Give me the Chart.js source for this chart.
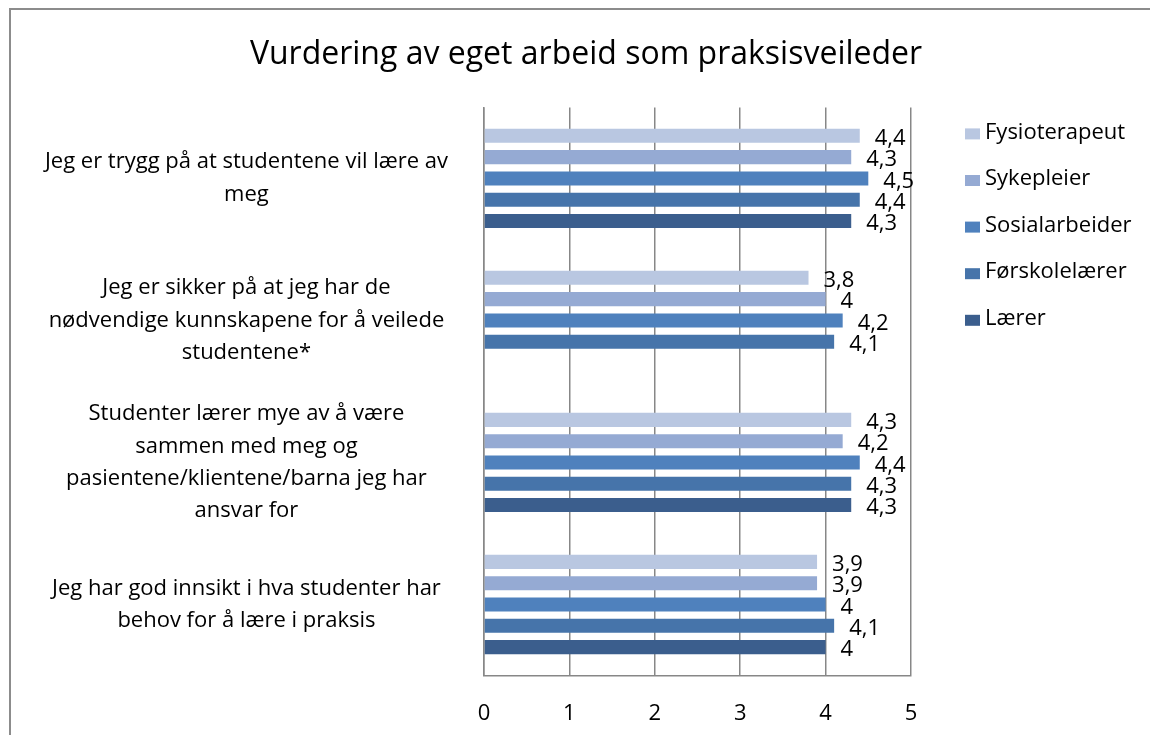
<!DOCTYPE html>
<html lang="no">
<head>
<meta charset="utf-8">
<title>Vurdering av eget arbeid som praksisveileder</title>
<script src="https://cdn.jsdelivr.net/npm/chart.js@4.4.1/dist/chart.umd.min.js"></script>
<style>
    html, body { margin: 0; padding: 0; background: #fff; }
</style>
</head>
<body>
<canvas id="chart" width="1150" height="735"></canvas>
<script>
// Statements (wrapped the same way as on the axis)
const CATEGORIES = [
    ['Jeg er trygg på at studentene vil lære av', 'meg'],
    ['Jeg er sikker på at jeg har de', 'nødvendige kunnskapene for å veilede', 'studentene*'],
    ['Studenter lærer mye av å være', 'sammen med meg og', 'pasientene/klientene/barna jeg har', 'ansvar for'],
    ['Jeg har god innsikt i hva studenter har', 'behov for å lære i praksis']
];

// Average score per profession
const FYSIOTERAPEUT = [4.4, 3.8, 4.3, 3.9];
const SYKEPLEIER = [4.3, 4, 4.2, 3.9];
const SOSIALARBEIDER = [4.5, 4.2, 4.4, 4];
const FORSKOLELAERER = [4.4, 4.1, 4.3, 4.1];
const LAERER = [4.3, null, 4.3, 4];

const SERIES_NAMES = ['Fysioterapeut', 'Sykepleier', 'Sosialarbeider', 'Førskolelærer', 'Lærer'];
const SERIES_COLORS = ['#b9c7e1', '#95aad3', '#4f81bd', '#4674aa', '#3b5e8d'];
const X_TICKS = [0, 1, 2, 3, 4, 5];

const FONT = "'Open Sans', Lato, sans-serif";
const TEXT_SIZE = 22;
const GRID_COLOR = '#878787';

// Norwegian decimal comma
const fmt = v => String(v).replace('.', ',');

// Grey frame around the chart
const framePlugin = {
    id: 'frame',
    beforeDraw(chart) {
        const ctx = chart.ctx;
        ctx.save();
        ctx.strokeStyle = '#8c8c8c';
        ctx.lineWidth = 2;
        ctx.beginPath();
        ctx.moveTo(10, chart.height);
        ctx.lineTo(10, 9);
        ctx.lineTo(chart.width, 9);
        ctx.stroke();
        ctx.restore();
    }
};

// Value labels to the right of each bar
const barValuesPlugin = {
    id: 'barValues',
    afterDatasetsDraw(chart) {
        const ctx = chart.ctx;
        ctx.save();
        ctx.font = `${TEXT_SIZE}px ${FONT}`;
        ctx.fillStyle = '#000';
        ctx.textAlign = 'left';
        ctx.textBaseline = 'middle';
        chart.data.datasets.forEach((ds, i) => {
            const meta = chart.getDatasetMeta(i);
            meta.data.forEach((bar, j) => {
                const v = ds.data[j];
                if (v === null || v === undefined) return;
                ctx.fillText(fmt(v), bar.x + 15, bar.y + 3);
            });
        });
        ctx.restore();
    }
};

// Legend column at the right of the plot
const sideLegendPlugin = {
    id: 'sideLegend',
    afterDraw(chart) {
        const ctx = chart.ctx;
        const area = chart.chartArea;
        const x0 = area.right + 54;
        const y0 = area.top + 25;
        const step = 46.6;
        ctx.save();
        ctx.font = `${TEXT_SIZE}px ${FONT}`;
        ctx.textAlign = 'left';
        ctx.textBaseline = 'middle';
        chart.data.datasets.forEach((ds, i) => {
            const y = y0 + i * step;
            ctx.fillStyle = ds.backgroundColor;
            ctx.fillRect(x0, y - 4, 15, 11);
            ctx.fillStyle = '#000';
            ctx.fillText(ds.label, x0 + 20, y);
        });
        ctx.restore();
    }
};

const seriesData = [FYSIOTERAPEUT, SYKEPLEIER, SOSIALARBEIDER, FORSKOLELAERER, LAERER];

const datasets = SERIES_NAMES.map((name, i) => ({
    label: name,
    data: seriesData[i],
    backgroundColor: SERIES_COLORS[i],
    borderWidth: 0,
    categoryPercentage: 0.75,
    barPercentage: 0.66
}));

new Chart(document.getElementById('chart'), {
    type: 'bar',
    data: { labels: CATEGORIES, datasets },
    plugins: [framePlugin, barValuesPlugin, sideLegendPlugin],
    options: {
        indexAxis: 'y',
        responsive: false,
        animation: false,
        layout: { padding: { left: 22, right: 0, top: 0, bottom: 0 } },
        plugins: {
            legend: { display: false },
            tooltip: { enabled: false },
            title: {
                display: true,
                text: 'Vurdering av eget arbeid som praksisveileder',
                color: '#000',
                font: { family: FONT, size: 32, weight: 'normal', lineHeight: 1.2 },
                padding: { top: 36, bottom: 33 }
            }
        },
        scales: {
            x: {
                min: 0,
                max: 5,
                afterBuildTicks: scale => { scale.ticks = X_TICKS.map(v => ({ value: v })); },
                grid: { color: GRID_COLOR, lineWidth: 1.5, drawTicks: false },
                border: { color: GRID_COLOR, width: 1.5 },
                ticks: { color: '#000', padding: 25, font: { family: FONT, size: TEXT_SIZE } },
                afterFit: scale => { scale.height = 59.5; }
            },
            y: {
                grid: { display: false },
                border: { color: GRID_COLOR, width: 1.5 },
                ticks: {
                    color: '#000',
                    crossAlign: 'center',
                    padding: 28,
                    font: { family: FONT, size: TEXT_SIZE, lineHeight: 32.4 / TEXT_SIZE }
                },
                afterFit: scale => {
                    scale.width = 462;
                    // labels sit inside their category band, no extra room needed
                    scale.paddingTop = 0;
                    scale.paddingBottom = 0;
                }
            },
            // empty column that keeps room for the legend
            yLegend: {
                type: 'category',
                position: 'right',
                grid: { display: false },
                border: { display: false },
                ticks: { display: false },
                afterFit: scale => { scale.width = 239; }
            }
        }
    }
});
</script>
</body>
</html>
